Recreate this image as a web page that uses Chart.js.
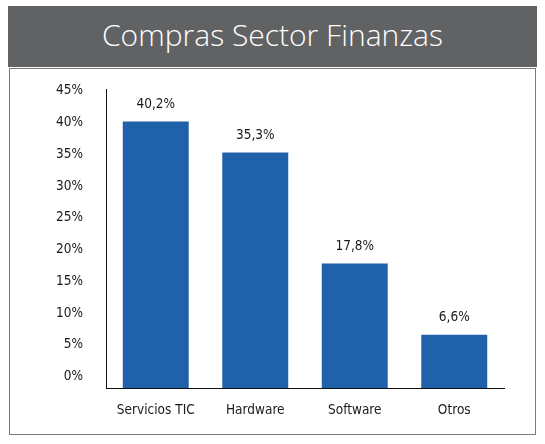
<!DOCTYPE html>
<html lang="es">
<head>
<meta charset="utf-8">
<title>Compras Sector Finanzas</title>
<script src="https://cdn.jsdelivr.net/npm/chart.js@4.4.1/dist/chart.umd.min.js"></script>
<style>
  html, body { margin: 0; padding: 0; background: #fff; }
  body { width: 545px; height: 444px; position: relative; overflow: hidden; }
  .cabecera {
    position: absolute; left: 8px; top: 6px; width: 529px; height: 61px;
    background: #616264; color: #fff;
    font-family: 'Open Sans', 'Lato', sans-serif; font-weight: 300; font-size: 30px;
    line-height: 58px; text-align: center;
  }
  .caja {
    position: absolute; left: 9px; top: 68px; width: 525px; height: 365px;
    border: 1px solid #7a7a7a; background: #fff;
  }
  .caja canvas { display: block; }
</style>
</head>
<body>
<div class="cabecera">Compras Sector Finanzas</div>
<div class="caja"><canvas id="grafico"></canvas></div>

<script>
// ── Datos ──────────────────────────────────────────────
const categorias = ['Servicios TIC', 'Hardware', 'Software', 'Otros'];
const porcentajes = [40.2, 35.3, 17.8, 6.6];
const ticksY = [0, 5, 10, 15, 20, 25, 30, 35, 40, 45];

const Y_MIN = -1.8;
const Y_MAX = 45.3;
const AZUL = '#2062aa';
const FUENTE = "'Liberation Sans Narrow', 'DejaVu Sans Condensed', sans-serif";
const TAM = 13.5;

const fmt = v => v.toFixed(1).replace('.', ',') + '%';

// etiquetas de valor encima de cada barra
const etiquetasValor = {
  id: 'etiquetasValor',
  afterDatasetsDraw(chart) {
    const { ctx } = chart;
    const meta = chart.getDatasetMeta(0);
    ctx.save();
    ctx.font = TAM + 'px ' + FUENTE;
    ctx.fillStyle = '#1a1a1a';
    ctx.textAlign = 'center';
    ctx.textBaseline = 'bottom';
    meta.data.forEach((bar, i) => {
      ctx.fillText(fmt(porcentajes[i]), bar.x, bar.y - 10);
    });
    ctx.restore();
  }
};

new Chart(document.getElementById('grafico'), {
  type: 'bar',
  data: {
    labels: categorias,
    datasets: [{
      data: porcentajes,
      base: Y_MIN,
      backgroundColor: AZUL,
      borderWidth: 0,
      categoryPercentage: 1,
      barPercentage: 0.663
    }]
  },
  options: {
    responsive: true,
    maintainAspectRatio: false,
    animation: false,
    layout: { padding: { top: 20, right: 31, bottom: 0, left: 0 } },
    plugins: {
      legend: { display: false },
      tooltip: { enabled: false }
    },
    scales: {
      x: {
        grid: { display: false, drawTicks: false },
        border: { display: true, color: '#111', width: 1 },
        ticks: {
          color: '#1a1a1a',
          padding: 14,
          font: { family: FUENTE, size: TAM }
        },
        afterFit: s => { s.height = 46; s.paddingLeft = 0; s.paddingRight = 0; }
      },
      y: {
        min: Y_MIN,
        max: Y_MAX,
        grid: { display: false, drawTicks: false },
        border: { display: true, color: '#111', width: 1 },
        afterBuildTicks: s => { s.ticks = ticksY.map(v => ({ value: v })); },
        ticks: {
          color: '#1a1a1a',
          padding: 23,
          font: { family: FUENTE, size: TAM },
          callback: v => v + '%'
        },
        afterFit: s => { s.width = 96; s.paddingTop = 0; s.paddingBottom = 0; }
      }
    }
  },
  plugins: [etiquetasValor]
});
</script>
</body>
</html>
